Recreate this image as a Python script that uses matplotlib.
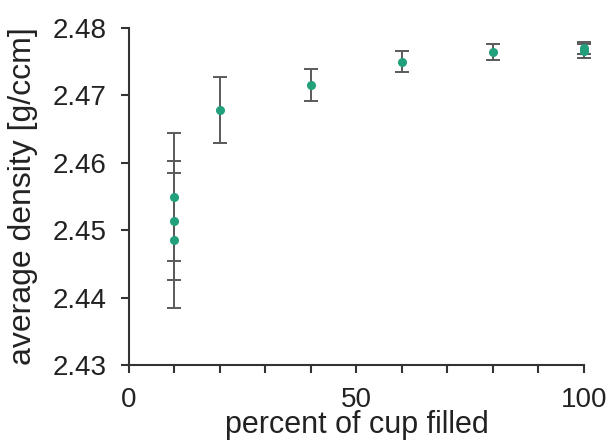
import matplotlib
matplotlib.use('Agg')
import matplotlib.pyplot as plt
from matplotlib.ticker import MultipleLocator, FixedLocator

plt.rcParams['font.family'] = ['Liberation Sans', 'DejaVu Sans']

# fill level of the cup (%) vs. measured average density
fill = [10, 10, 10, 20, 40, 60, 80, 100, 100]
density = [2.4549, 2.4514, 2.4485, 2.4679, 2.4715, 2.4750, 2.4764, 2.4766, 2.4770]
err = [0.0095, 0.0088, 0.0100, 0.0049, 0.0024, 0.0016, 0.0012, 0.0011, 0.0009]

yticks = [2.43, 2.44, 2.45, 2.46, 2.47, 2.48]
xticks = [0, 50, 100]

fig = plt.figure(figsize=(6.1, 4.41), dpi=100)
ax = fig.add_axes([0.2115, 0.1723, 0.957 - 0.2115, 0.9365 - 0.1723])

ax.errorbar(fill, density, yerr=err, fmt='o', color='#22a07c',
            markersize=5.5, ecolor='#5a5a5a', elinewidth=1.4,
            capsize=5, capthick=1.4, clip_on=False, zorder=3)

ax.set_xlim(0, 100)
ax.set_ylim(2.43, 2.48)
ax.xaxis.set_major_locator(FixedLocator(xticks))
ax.xaxis.set_minor_locator(MultipleLocator(10))
ax.yaxis.set_major_locator(FixedLocator(yticks))
ax.set_yticklabels(['%.2f' % t for t in yticks])

for side in ('top', 'right'):
    ax.spines[side].set_visible(False)
for side in ('left', 'bottom'):
    ax.spines[side].set_linewidth(1.5)
    ax.spines[side].set_color('#333333')

ax.tick_params(which='both', direction='out', length=6, width=1.5,
               color='#333333', labelsize=20, labelcolor='#222222')
ax.tick_params(axis='y', pad=10)
ax.tick_params(axis='x', pad=10)

ax.set_xlabel('percent of cup filled', fontsize=22, color='#222222',
              labelpad=-2)
ax.set_ylabel('average density [g/ccm]', fontsize=23, color='#222222',
              labelpad=11)

fig.savefig('out.png', dpi=100)
